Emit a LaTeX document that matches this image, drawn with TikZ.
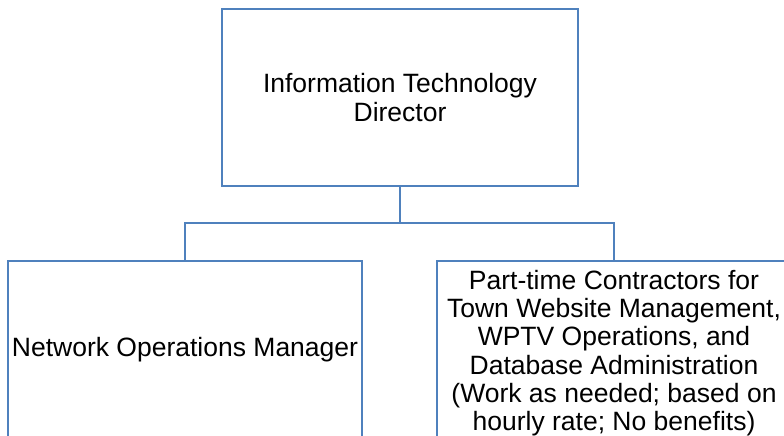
\documentclass[tikz,border=0pt]{standalone}
\usepackage{fontspec}
\setmainfont{Liberation Sans}
\definecolor{boxblue}{HTML}{4F81BD}
\begin{document}
\begin{tikzpicture}[x=1pt,y=-1pt,
  orgfont/.style={font=\fontsize{26.5}{28.3}\selectfont},
  orgbox/.style={draw=boxblue,line width=2pt,fill=white,minimum width=354pt,minimum height=177pt,
    inner sep=0pt,align=center,orgfont},
  link/.style={draw=boxblue,line width=2pt}]
\useasboundingbox (0,0) rectangle (784,436);
\clip (0,0) rectangle (784,436);
\fill[white] (0,0) rectangle (784,436);
\node[orgbox,minimum width=356pt] (top) at (400,97.5) {Information Technology\\Director};
\node[orgbox] (left) at (185,349.5) {Network Operations Manager};
\node[orgbox] (right) at (614,349.5) {};
\node[align=center,inner sep=0pt,orgfont] (righttext) at (614,353) {Part-time Contractors for\\Town Website Management,\\WPTV Operations, and\\Database Administration\\(Work as needed; based on\\hourly rate; No benefits)};
\coordinate (bus) at (400,223);
\draw[link] (top.south) -- (bus) -| (left.north);
\draw[link] (bus) -| (right.north);
\end{tikzpicture}
\end{document}
